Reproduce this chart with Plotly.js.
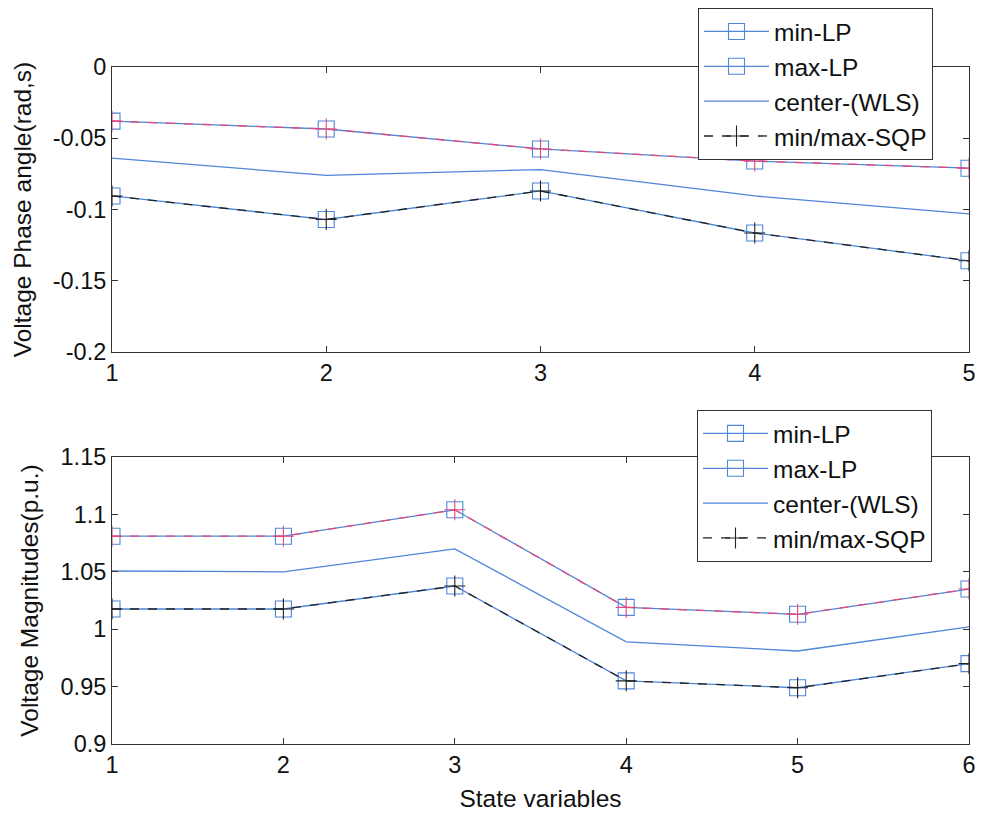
<!DOCTYPE html>
<html>
<head>
<meta charset="utf-8">
<script src="https://cdn.plot.ly/plotly-3.0.1.min.js"></script>
<style>html,body{margin:0;padding:0;background:#fff;}#chart{width:981px;height:815px;}</style>
</head>
<body>
<div id="chart"></div>
<script>
// ---- Data ----
const xTop = [1, 2, 3, 4, 5];
const angleMinLP = [-0.0905, -0.107, -0.087, -0.1165, -0.136];
const angleMaxLP = [-0.038, -0.0435, -0.0575, -0.066, -0.071];
const angleCenter = [-0.064, -0.076, -0.072, -0.0905, -0.103];
const angleMinSQP = [-0.0905, -0.107, -0.087, -0.1165, -0.136];
const angleMaxSQP = [-0.038, -0.0435, -0.0575, -0.066, -0.071];

const xBot = [1, 2, 3, 4, 5, 6];
const magMinLP = [1.0176, 1.0176, 1.0376, 0.955, 0.949, 0.970];
const magMaxLP = [1.081, 1.081, 1.104, 1.019, 1.013, 1.035];
const magCenter = [1.0507, 1.050, 1.070, 0.989, 0.981, 1.002];
const magMinSQP = [1.0176, 1.0176, 1.0376, 0.955, 0.949, 0.970];
const magMaxSQP = [1.081, 1.081, 1.104, 1.019, 1.013, 1.035];

const topYTickVals = [-0.2, -0.15, -0.1, -0.05, 0];
const topYTickText = ['-0.2', '-0.15', '-0.1', '-0.05', '0'];
const botYTickVals = [0.9, 0.95, 1, 1.05, 1.1, 1.15];
const botYTickText = ['0.9', '0.95', '1', '1.05', '1.1', '1.15'];

const names = ['min-LP', 'max-LP', 'center-(WLS)', 'min/max-SQP'];

// ---- Styles ----
const BLUE = '#4f86d8';
const RED = '#e8447a';
const DARK = '#222222';
const FONT = 'Liberation Sans, Arial, sans-serif';

function makeTraces(x, mn, mx, ctr, sqpMin, sqpMax, xa, ya, leg) {
  const sq = {symbol: 'square-open', size: 16, color: BLUE, line: {width: 1.1, color: BLUE}};
  const cr = (c) => ({symbol: 'cross-thin-open', size: 15, color: c, line: {width: 1.1, color: c}});
  return [
    {x: x, y: mn, name: names[0], mode: 'lines+markers', line: {color: BLUE, width: 1.3}, marker: sq, xaxis: xa, yaxis: ya, legend: leg},
    {x: x, y: mx, name: names[1], mode: 'lines+markers', line: {color: BLUE, width: 1.3}, marker: sq, xaxis: xa, yaxis: ya, legend: leg},
    {x: x, y: ctr, name: names[2], mode: 'lines', line: {color: BLUE, width: 1.3}, xaxis: xa, yaxis: ya, legend: leg},
    {x: x, y: sqpMin, name: names[3], mode: 'lines+markers', line: {color: DARK, width: 1.3, dash: 'dash'}, marker: cr(DARK), xaxis: xa, yaxis: ya, legend: leg},
    {x: x, y: sqpMax, name: names[3], showlegend: false, mode: 'lines+markers', line: {color: RED, width: 1.3, dash: 'dash'}, marker: cr(RED), xaxis: xa, yaxis: ya, legend: leg}
  ];
}

const data = [].concat(
  makeTraces(xTop, angleMinLP, angleMaxLP, angleCenter, angleMinSQP, angleMaxSQP, 'x', 'y', 'legend'),
  makeTraces(xBot, magMinLP, magMaxLP, magCenter, magMinSQP, magMaxSQP, 'x2', 'y2', 'legend2')
);

const axisCommon = {
  showgrid: false, zeroline: false, showline: true, linecolor: '#333', linewidth: 1,
  mirror: 'allticks', ticks: 'inside', ticklen: 6, tickcolor: '#333',
  tickfont: {family: FONT, size: 23.5, color: '#111'}, automargin: false
};
const titleFont = {family: FONT, size: 24.5, color: '#111'};
const legendFont = {family: FONT, size: 24.5, color: '#111'};

const xd = [112/981, 969/981];
const layout = {
  width: 981, height: 815,
  margin: {l: 0, r: 0, t: 0, b: 0},
  paper_bgcolor: '#ffffff', plot_bgcolor: '#ffffff',
  font: {family: FONT, size: 23, color: '#111'},
  xaxis: Object.assign({}, axisCommon, {domain: xd, range: [1, 5], tickvals: xTop, anchor: 'y'}),
  yaxis: Object.assign({}, axisCommon, {domain: [1-352/815, 1-67/815], range: [-0.2, 0], tickvals: topYTickVals, ticktext: topYTickText, anchor: 'x',
    title: {text: 'Voltage Phase angle(rad,s)', font: titleFont, standoff: 14}}),
  xaxis2: Object.assign({}, axisCommon, {domain: xd, range: [1, 6], tickvals: xBot, anchor: 'y2',
    title: {text: 'State variables', font: titleFont, standoff: 12}}),
  yaxis2: Object.assign({}, axisCommon, {domain: [1-744/815, 1-457/815], range: [0.9, 1.15], tickvals: botYTickVals, ticktext: botYTickText, anchor: 'x2',
    title: {text: 'Voltage Magnitudes(p.u.)', font: titleFont, standoff: 14}}),
  legend: {x: 698/981, y: 1-8/815, xanchor: 'left', yanchor: 'top', bgcolor: '#fff', bordercolor: '#333', borderwidth: 1,
    font: legendFont, tracegroupgap: 0, itemwidth: 65},
  legend2: {x: 697/981, y: 1-410/815, xanchor: 'left', yanchor: 'top', bgcolor: '#fff', bordercolor: '#333', borderwidth: 1,
    font: legendFont, tracegroupgap: 0, itemwidth: 65},
  showlegend: true
};

Plotly.newPlot('chart', data, layout, {displayModeBar: false, staticPlot: true});
</script>
</body>
</html>
